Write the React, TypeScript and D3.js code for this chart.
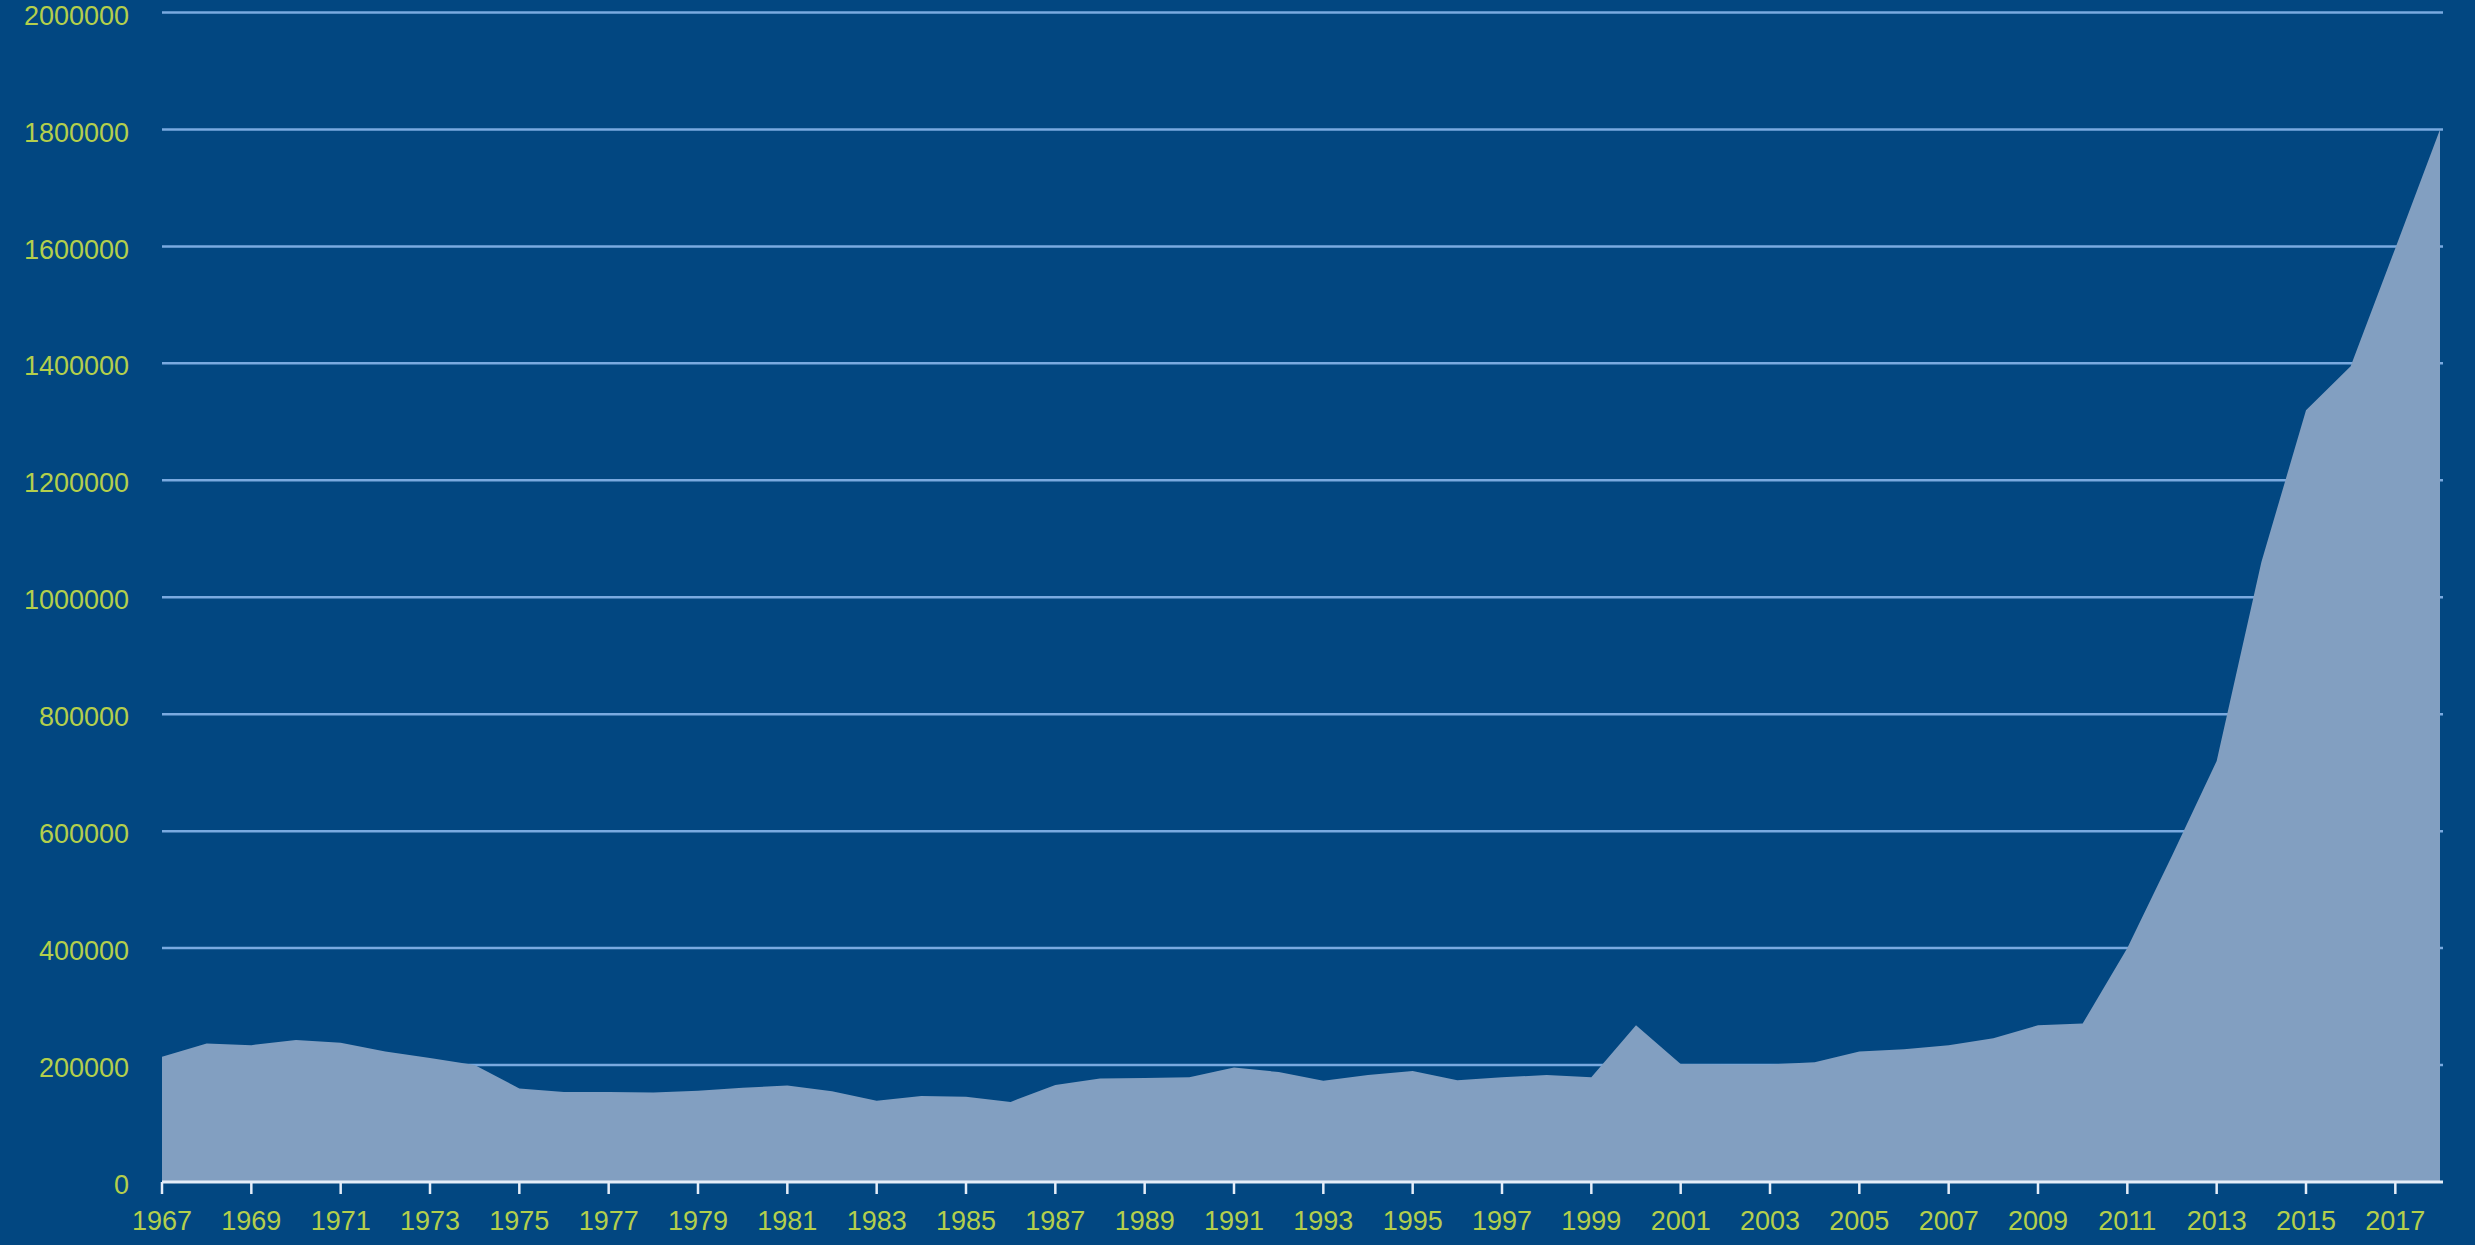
import React from "react";
import * as d3 from "d3";

const years: number[] = [
  1967, 1968, 1969, 1970, 1971, 1972, 1973, 1974, 1975, 1976, 1977, 1978, 1979,
  1980, 1981, 1982, 1983, 1984, 1985, 1986, 1987, 1988, 1989, 1990, 1991, 1992,
  1993, 1994, 1995, 1996, 1997, 1998, 1999, 2000, 2001, 2002, 2003, 2004, 2005,
  2006, 2007, 2008, 2009, 2010, 2011, 2012, 2013, 2014, 2015, 2016, 2017, 2018,
];

const values: number[] = [
  214000, 237000, 234000, 243000, 238000, 223000, 212000, 200000, 160000, 154000,
  154000, 153000, 156000, 161000, 165000, 155000, 139000, 147000, 146000, 137000,
  166000, 177000, 178000, 179000, 196000, 188000, 173000, 183000, 190000, 174000,
  179000, 183000, 179000, 268000, 202000, 201000, 201000, 205000, 223000, 227000,
  234000, 246000, 268000, 271000, 400000, 558000, 720000, 1060000, 1320000,
  1395000, 1597000, 1800000,
];

const yTicks: number[] = [
  0, 200000, 400000, 600000, 800000, 1000000, 1200000, 1400000, 1600000,
  1800000, 2000000,
];

const xTickYears: number[] = years.filter((y) => (y - 1967) % 2 === 0 && y <= 2017);

const W = 2475;
const H = 1245;
const BG = "#024781";
const AREA = "#829fc1";
const GRID = "#7aaae0";
const AXIS = "#e4edf8";
const LABEL = "#b4cf4c";
const FONT = "'Liberation Sans', Arial, sans-serif";

export default function App() {
  const x = d3.scaleLinear().domain([1967, 2018]).range([162, 2440]);
  const y = d3.scaleLinear().domain([0, 2000000]).range([1182, 12.5]);
  const plotRight = 2443;

  const area = d3
    .area<number>()
    .x((_, i) => x(years[i]))
    .y0(y(0))
    .y1((d) => y(d));

  return (
    <svg
      width={W}
      height={H}
      style={{ position: "fixed", left: 0, top: 0, display: "block" }}
    >
      <rect x={0} y={0} width={W} height={H} fill={BG} />
      {yTicks
        .filter((t) => t > 0)
        .map((t) => (
          <line
            key={"g" + t}
            x1={x(1967)}
            x2={plotRight}
            y1={y(t)}
            y2={y(t)}
            stroke={GRID}
            strokeWidth={2.5}
          />
        ))}
      <path d={area(values) || ""} fill={AREA} />
      <line
        x1={x(1967)}
        x2={plotRight}
        y1={y(0)}
        y2={y(0)}
        stroke={AXIS}
        strokeWidth={3}
      />
      {xTickYears.map((yr) => (
        <line
          key={"t" + yr}
          x1={x(yr)}
          x2={x(yr)}
          y1={y(0)}
          y2={y(0) + 12}
          stroke={AXIS}
          strokeWidth={2.5}
        />
      ))}
      {yTicks.map((t) => (
        <text
          key={"yl" + t}
          x={129}
          y={y(t) + 5}
          textAnchor="end"
          dominantBaseline="middle"
          fill={LABEL}
          fontFamily={FONT}
          fontSize={27}
        >
          {t}
        </text>
      ))}
      {xTickYears.map((yr) => (
        <text
          key={"xl" + yr}
          x={x(yr)}
          y={1223}
          textAnchor="middle"
          dominantBaseline="middle"
          fill={LABEL}
          fontFamily={FONT}
          fontSize={27}
        >
          {yr}
        </text>
      ))}
    </svg>
  );
}
